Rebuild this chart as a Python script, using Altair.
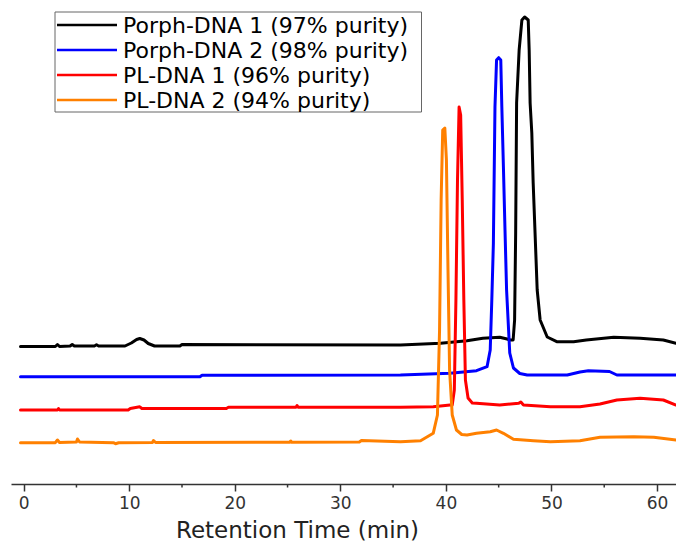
import altair as alt
import pandas as pd

# Series names (legend order) and colours
series_names = [
    "Porph-DNA 1 (97% purity)",
    "Porph-DNA 2 (98% purity)",
    "PL-DNA 1 (96% purity)",
    "PL-DNA 2 (94% purity)",
]
series_colors = ["#000000", "#0000FF", "#FF0000", "#FF8000"]

# Porph-DNA 1 (black) : retention time (min), signal (a.u., offset trace)
p1_t = [-0.3, 3.0, 3.2, 3.4, 4.4, 4.6, 4.8, 6.7, 6.9, 7.1, 9.6, 10.2, 10.7, 11.0, 11.4, 11.8, 12.4,
        14.8, 15.0, 35.7, 39.5, 42.0, 43.5, 45.1, 45.8, 46.1, 46.37, 46.51, 46.61, 46.7, 46.94, 47.2,
        47.46, 47.8, 47.89, 47.98, 48.14, 48.27, 48.65, 48.93, 49.6, 50.5, 52.1, 53.3, 55.9, 58.4,
        60.6, 61.8]
p1_v = [137.5, 137.5, 139.5, 137.5, 138, 139.5, 138, 138, 139.2, 138, 138, 141, 144.5, 145.5, 144,
        140.5, 138, 138, 139.5, 139, 140.7, 143.3, 145.7, 146.7, 145, 144, 144, 164, 251, 381, 434,
        464, 467, 464, 434, 381, 351, 301, 194, 164, 147, 142.3, 142.3, 144, 146.7, 145.7, 144, 140.7]

# Porph-DNA 2 (blue)
p2_t = [-0.3, 16.7, 16.9, 35.7, 40.4, 42.9, 43.9, 44.2, 44.35, 44.5, 44.65, 44.8, 45.0, 45.2, 45.3,
        45.45, 45.6, 45.75, 46.05, 46.4, 47.0, 47.7, 51.5, 52.7, 53.5, 55.5, 56.2, 61.8]
p2_v = [107.3, 107.3, 108.8, 109, 110.7, 113.3, 117.3, 134, 184, 241, 377, 424, 426.3, 424, 377,
        317, 254, 194, 131, 116, 110.5, 109, 109, 112, 113.3, 112.5, 109, 109]

# PL-DNA 1 (red)
l1_t = [-0.3, 3.2, 3.3, 3.4, 9.9, 10.1, 11.0, 11.2, 19.2, 19.4, 25.8, 25.9, 26.0, 35.7, 38.8, 40.4,
        40.6, 40.8, 40.95, 41.1, 41.25, 41.4, 41.55, 41.7, 41.85, 42.1, 42.5, 42.9, 45.1, 46.9, 47.1,
        47.35, 49.9, 52.7, 54.6, 56.2, 58.4, 60.6, 61.8]
l1_v = [74, 74, 75.5, 74, 74, 75.5, 77.2, 75.5, 75.5, 76.7, 76.7, 78.5, 76.7, 76.7, 77.3, 79, 79, 94,
        184, 304, 377, 369, 284, 184, 104, 86, 81, 80.7, 79, 80.7, 82, 79, 77.3, 77.3, 80, 84, 85.7,
        84, 79]

# PL-DNA 2 (orange)
l2_t = [-0.3, 3.0, 3.2, 3.4, 5.0, 5.1, 5.3, 8.5, 8.7, 9.0, 12.2, 12.3, 12.5, 25.2, 25.3, 25.4, 31.8,
        32.0, 35.7, 37.6, 38.8, 39.2, 39.4, 39.55, 39.7, 39.9, 40.05, 40.2, 40.35, 40.6, 41.0, 41.5,
        42.0, 42.9, 44.2, 44.8, 45.45, 46.4, 48.3, 49.9, 52.7, 54.6, 57.8, 59.7, 61.8]
l2_v = [41.3, 41.3, 44, 41.5, 42, 45, 42, 41.3, 40.3, 41.3, 41.5, 43.5, 41.5, 41.7, 43, 41.7, 42,
        43.5, 42.3, 43.3, 50.7, 69, 154, 284, 354, 356, 324, 214, 114, 69, 54, 49.5, 49, 50.7, 52.3,
        54, 50.7, 44.7, 43.3, 42.3, 43.3, 46.7, 47.3, 46.7, 44]

# Axis ticks
major_ticks = [0, 10, 20, 30, 40, 50, 60]
minor_ticks = [5, 15, 25, 35, 45, 55]

traces = [(p1_t, p1_v), (p2_t, p2_v), (l1_t, l1_v), (l2_t, l2_v)]
frames = []
for i, (ts, vs) in enumerate(traces):
    frames.append(pd.DataFrame({"t": ts, "v": vs, "series": series_names[i], "order": range(len(ts))}))
df = pd.concat(frames, ignore_index=True)

PLOT_W, PLOT_H = 665, 484
FONT = "DejaVu Sans"

x_enc = alt.X(
    "t:Q",
    scale=alt.Scale(domain=[-1.2, 61.8], nice=False, zero=False),
    axis=alt.Axis(
        values=major_ticks,
        title="Retention Time (min)",
        titleFont=FONT,
        titleFontSize=23,
        titleFontWeight="normal",
        titleColor="#222222",
        titleX=286,
        titleY=53,
        titleAlign="center",
        titleBaseline="alphabetic",
        labelFont=FONT,
        labelFontSize=17,
        labelColor="#333333",
        labelPadding=4,
        tickSize=7,
        tickWidth=1.5,
        tickColor="#333333",
        domainColor="#333333",
        domainWidth=1.5,
        grid=False,
        format="d",
    ),
)
y_enc = alt.Y("v:Q", scale=alt.Scale(domain=[0, PLOT_H], nice=False, zero=False), axis=None)
color_scale = alt.Scale(domain=series_names, range=series_colors)
color_enc = alt.Color("series:N", scale=color_scale, legend=None)

layers = []
for name in series_names:
    layers.append(
        alt.Chart(df)
        .transform_filter(alt.datum.series == name)
        .mark_line(strokeWidth=3, strokeJoin="round", strokeCap="round")
        .encode(x=x_enc, y=y_enc, color=color_enc, order="order:Q")
    )

minor_df = pd.DataFrame({"t": minor_ticks})
minor = (
    alt.Chart(minor_df)
    .mark_rule(color="#333333", strokeWidth=1.5)
    .encode(x=x_enc, y=alt.value(PLOT_H), y2=alt.value(PLOT_H + 3.5))
)

# Hand-built legend (box, stroke symbols, labels)
legend_df = pd.DataFrame({"series": series_names, "row": list(range(len(series_names)))})
box = (
    alt.Chart(pd.DataFrame({"k": [0]}))
    .mark_rect(fill="white", stroke="#666666", strokeWidth=1)
    .encode(x=alt.value(44), x2=alt.value(410.5), y=alt.value(12), y2=alt.value(112))
)
row_y = alt.Y("row:Q", scale=alt.Scale(domain=[0, 3], range=[25, 100]), axis=None)
leg_lines = (
    alt.Chart(legend_df)
    .mark_rule(strokeWidth=2.7)
    .encode(x=alt.value(46), x2=alt.value(106), y=row_y, color=color_enc)
)
leg_text = (
    alt.Chart(legend_df)
    .mark_text(align="left", baseline="alphabetic", dy=8, font=FONT, fontSize=22, color="#000000")
    .encode(x=alt.value(112), y=row_y, text="series:N")
)

chart = (
    alt.layer(*layers, minor, box, leg_lines, leg_text)
    .resolve_scale(y="independent")
    .properties(
        width=PLOT_W,
        height=PLOT_H,
        padding={"left": 11, "top": 0, "right": 0, "bottom": 59},
        autosize=alt.AutoSizeParams(type="none"),
        background="white",
    )
    .configure_view(stroke=None)
)

chart.save("out.html", embed_options={"renderer": "svg", "actions": False})
